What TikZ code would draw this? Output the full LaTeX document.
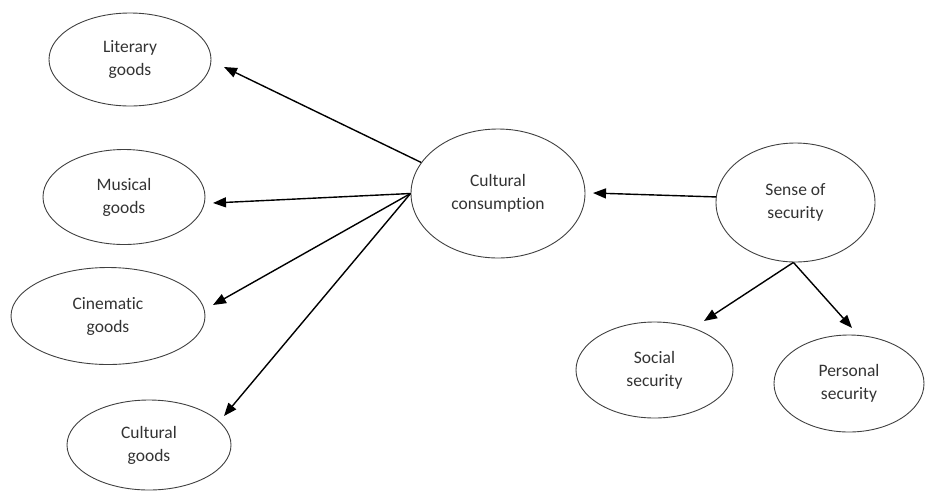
\documentclass[tikz,border=0pt]{standalone}
\usepackage{fontspec}
\setmainfont[Ligatures={NoCommon,NoRequired}]{Carlito}
\usetikzlibrary{shapes.geometric,arrows.meta}
\begin{document}
\begin{tikzpicture}[x=1pt,y=-1pt,
  oval/.style={ellipse,draw=black!75,line width=0.9pt,inner sep=0pt,align=center,
    text=black!80,font=\fontsize{17.5}{23}\selectfont},
  arr/.style={draw=black,line width=1.4pt,-{Triangle[length=13pt,width=10pt]}}]
\useasboundingbox (0,0) rectangle (935,491);
\node[oval,minimum width=162pt,minimum height=93pt] (lit) at (130,59.5) {Literary\\goods};
\node[oval,minimum width=162pt,minimum height=95pt] (mus) at (124,197) {Musical\\goods};
\node[oval,minimum width=194pt,minimum height=97pt] (cin) at (108,316) {Cinematic\\goods};
\node[oval,minimum width=164pt,minimum height=90pt] (cul) at (149,445) {Cultural\\goods};
\node[oval,minimum width=174pt,minimum height=129pt] (cc) at (498,193.5) {Cultural\\consumption};
\node[oval,minimum width=159pt,minimum height=119pt] (ss) at (795.5,202.5) {Sense of\\security};
\node[oval,minimum width=157pt,minimum height=96pt] (soc) at (654.5,370) {Social\\security};
\node[oval,minimum width=150pt,minimum height=97pt] (per) at (849,383.5) {Personal\\security};
\coordinate (tlit) at (224,67);
\coordinate (tmus) at (213,203);
\coordinate (tcin) at (213,305);
\coordinate (tcul) at (224,416);
\coordinate (tcc) at (593,193);
\coordinate (tsoc) at (704,321);
\coordinate (tper) at (852,328);
\draw[arr] (cc.158) -- (tlit);
\draw[arr] (cc.west) -- (tmus);
\draw[arr] (cc.west) -- (tcin);
\draw[arr] (cc.west) -- (tcul);
\draw[arr] (ss.176) -- (tcc);
\draw[arr] (ss.268) -- (tsoc);
\draw[arr] (ss.268) -- (tper);
\end{tikzpicture}
\end{document}
